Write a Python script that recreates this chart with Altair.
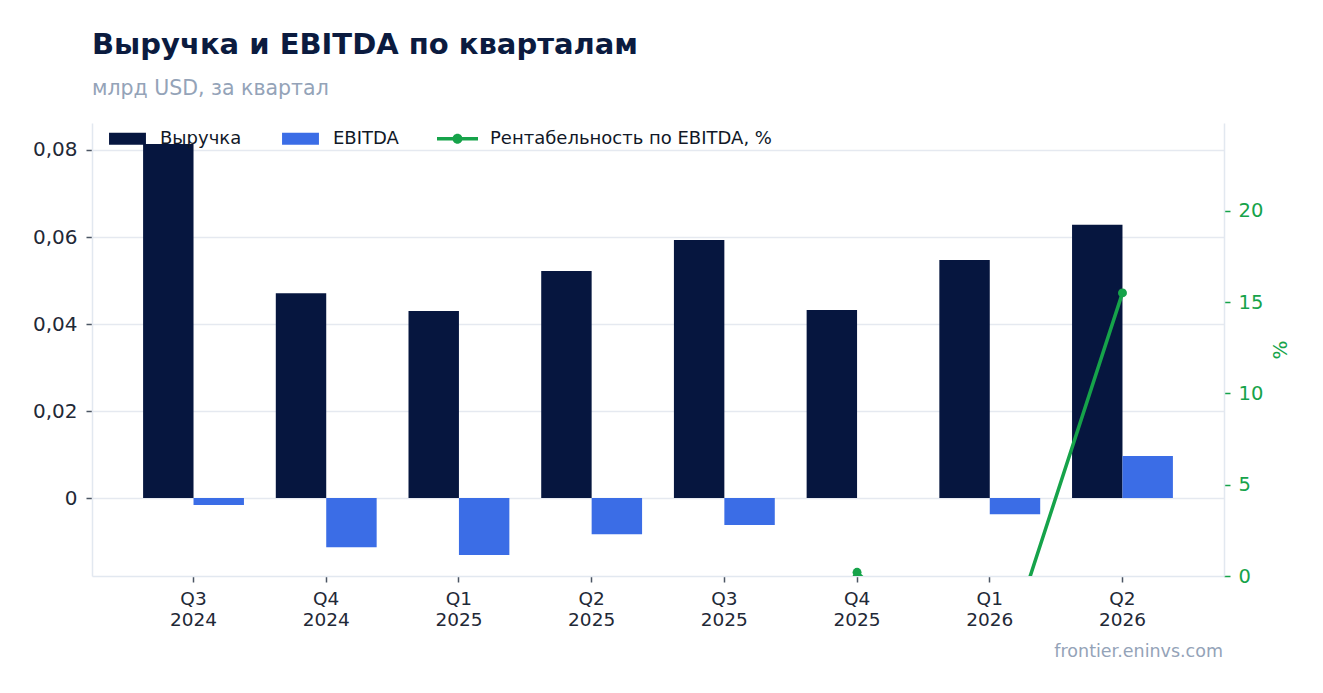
import altair as alt
import pandas as pd

# ---- data ----
quarters = ["Q3 2024", "Q4 2024", "Q1 2025", "Q2 2025", "Q3 2025", "Q4 2025", "Q1 2026", "Q2 2026"]
revenue = [0.0814, 0.0471, 0.0430, 0.0522, 0.0593, 0.0432, 0.0547, 0.0628]
ebitda = [-0.0016, -0.0113, -0.0131, -0.0083, -0.0062, 0.0, -0.0037, 0.0097]
margin = [-2.0, -24.0, -30.5, -15.9, -10.5, 0.2, -6.8, 15.5]

series_names = ["Выручка", "EBITDA", "Рентабельность по EBITDA, %"]
series_colors = ["#06163f", "#3b6de6", "#16a34a"]
left_ticks = [0, 0.02, 0.04, 0.06, 0.08]
right_ticks = [0, 5, 10, 15, 20]

title_text = "Выручка и EBITDA по кварталам"
subtitle_text = "млрд USD, за квартал"
watermark = "frontier.eninvs.com"

FONT = "DejaVu Sans"
W, H = 1132, 453

bars_df = pd.DataFrame({
    "quarter": quarters * 2,
    "series": [series_names[0]] * len(quarters) + [series_names[1]] * len(quarters),
    "value": revenue + ebitda,
})
line_df = pd.DataFrame({"quarter": quarters, "margin": margin})
legend_df = pd.DataFrame({"series": series_names})

x_enc = alt.X(
    "quarter:N",
    sort=quarters,
    scale=alt.Scale(paddingInner=0.24, paddingOuter=0.385),
    axis=alt.Axis(
        title=None,
        labelAngle=0,
        labelExpr="split(datum.value, ' ')",
        labelFontSize=18.5,
        labelColor="#1f2937",
        labelLineHeight=21,
        labelPadding=7,
        tickColor="#4b5563",
        tickSize=6,
        tickWidth=1.5,
        domainColor="#e2e8f0",
        domainWidth=1.5,
        grid=False,
    ),
)

bars = alt.Chart(bars_df).mark_bar().encode(
    x=x_enc,
    xOffset=alt.XOffset("series:N", sort=series_names[:2],
                        scale=alt.Scale(paddingInner=0, paddingOuter=0)),
    y=alt.Y(
        "value:Q",
        scale=alt.Scale(domain=[-0.0179, 0.0862], nice=False, zero=False),
        axis=alt.Axis(
            orient="left",
            title=None,
            values=left_ticks,
            labelExpr="datum.value == 0 ? '0' : replace(format(datum.value, '.2f'), '.', ',')",
            labelFontSize=20,
            labelColor="#1f2937",
            labelPadding=9,
            tickColor="#4b5563",
            tickSize=6,
            tickWidth=1.5,
            domainColor="#e2e8f0",
            domainWidth=1.5,
            grid=True,
            gridColor="#e5e9f0",
            gridWidth=1.5,
        ),
    ),
    fill=alt.Fill("series:N", scale=alt.Scale(domain=series_names[:2], range=series_colors[:2]),
                  legend=None),
)

y_right = alt.Y(
    "margin:Q",
    scale=alt.Scale(domain=[0, 24.8], nice=False, zero=False),
    axis=alt.Axis(
        orient="right",
        title="%",
        titleColor="#16a34a",
        titleFontSize=20,
        titleFontWeight="normal",
        titleAngle=270,
        titlePadding=28,
        values=right_ticks,
        labelColor="#16a34a",
        labelFontSize=19.5,
        labelPadding=8,
        tickColor="#16a34a",
        tickSize=6,
        tickWidth=1.5,
        domainColor="#e2e8f0",
        domainWidth=1.5,
        grid=False,
    ),
)

line = alt.Chart(line_df).mark_line(color="#16a34a", strokeWidth=3.5, clip=True).encode(
    x=x_enc, y=y_right
)
pts = alt.Chart(line_df).mark_point(color="#16a34a", filled=True, size=80, opacity=1, clip=True).encode(
    x=x_enc, y=y_right
)
right = alt.layer(line, pts)

rect_path = "M-0.9,-0.29H0.9V0.29H-0.9Z"
line_path = ("M-1,-0.085H1V0.085H-1Z "
             "M-0.244,0A0.244,0.244 0 1,1 0.244,0A0.244,0.244 0 1,1 -0.244,0Z")

legend_params = dict(
    title=None, orient="none", legendX=15, legendY=-5,
    direction="horizontal", columnPadding=38, labelOffset=12,
    symbolSize=1681, symbolStrokeWidth=0, symbolOpacity=1,
    labelFontSize=18, labelColor="#111827", labelFont=FONT, labelLimit=600,
    padding=0,
)

legend_layer = alt.Chart(legend_df).mark_point(filled=True, opacity=0).encode(
    x=alt.value(0),
    y=alt.value(0),
    color=alt.Color("series:N", sort=series_names,
                    scale=alt.Scale(domain=series_names, range=series_colors),
                    legend=alt.Legend(**legend_params)),
    shape=alt.Shape("series:N", sort=series_names,
                    scale=alt.Scale(domain=series_names, range=[rect_path, rect_path, line_path]),
                    legend=alt.Legend(**legend_params)),
)

wm = alt.Chart(pd.DataFrame({"t": [watermark]})).mark_text(
    align="right", baseline="middle", fontSize=17.5, color="#94a3b8", font=FONT
).encode(x=alt.value(W - 1), y=alt.value(H + 76), text="t:N")

chart = alt.layer(bars, right, legend_layer, wm).resolve_scale(
    y="independent"
).properties(
    width=W,
    height=H,
    autosize=alt.AutoSizeParams(type="none"),
    padding={"left": 84, "top": 115, "right": 84, "bottom": 102},
    title=alt.TitleParams(
        text=title_text,
        subtitle=subtitle_text,
        anchor="start",
        frame="group",
        font=FONT,
        fontSize=29,
        fontWeight="bold",
        color="#0b1b3f",
        subtitleFont=FONT,
        subtitleFontSize=20.5,
        subtitleColor="#94a3b8",
        subtitlePadding=19,
        offset=19,
    ),
).configure(font=FONT).configure_view(stroke=None)

chart.save("out.html", embed_options={"renderer": "svg", "actions": False})
